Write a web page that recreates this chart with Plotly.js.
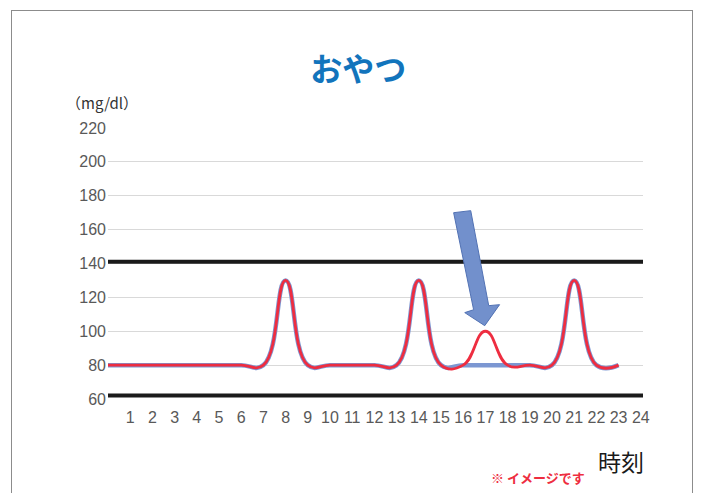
<!DOCTYPE html>
<html>
<head>
<meta charset="utf-8">
<script src="https://cdn.plot.ly/plotly-3.0.1.min.js"></script>
<style>
  html, body { margin: 0; padding: 0; background: #fff; }
  #frame { position: absolute; left: 11px; top: 10px; width: 682px; height: 500px; border: 1px solid #8c8c8c; box-sizing: border-box; }
  #chart { position: absolute; left: 0; top: 0; width: 701px; height: 493px; }
</style>
</head>
<body>
<div id="frame"></div>
<div id="chart"></div>
<script>
// ---- data ----
const hours = [0,1,2,3,4,5,6,7,8,9,10,11,12,13,14,15,16,17,18,19,20,21,22,23];
const withSnack = [80,80,80,80,80,80,80,80,130,80,80,80,80,80,130,80,80,100,80,80,80,130,80,80];
const withoutSnack = [80,80,80,80,80,80,80,80,130,80,80,80,80,80,130,80,80,80,80,80,80,130,80,80];
const xTickVals = [1,2,3,4,5,6,7,8,9,10,11,12,13,14,15,16,17,18,19,20,21,22,23,24];
const xTickText = ["1","2","3","4","5","6","7","8","9","10","11","12","13","14","15","16","17","18","19","20","21","22","23","24"];
const yTickVals = [60,80,100,120,140,160,180,200,220];
const upperLimit = 141;
const lowerLimit = 62;
// block arrow outline (data units) pointing at the snack peak
const arrowX = [15.57, 16.34, 17.15, 17.64, 16.97, 16.07, 16.47];
const arrowY = [170.0, 171.2, 115.1, 115.7, 103.3, 111.0, 112.7];

const arrowPath = arrowX.map((x, i) => (i === 0 ? 'M' : 'L') + x + ',' + arrowY[i]).join(' ') + ' Z';

const traces = [
  {
    x: hours, y: withoutSnack, type: 'scatter', mode: 'lines',
    line: { color: '#7C97D2', width: 4.5, shape: 'spline', smoothing: 1.3 },
    hoverinfo: 'skip', showlegend: false
  },
  {
    x: hours, y: withSnack, type: 'scatter', mode: 'lines',
    line: { color: '#EE2D40', width: 2.8, shape: 'spline', smoothing: 1.3 },
    hoverinfo: 'skip', showlegend: false
  }
];

const layout = {
  width: 701, height: 493,
  margin: { l: 108, r: 58, t: 128, b: 94 },
  paper_bgcolor: 'rgba(0,0,0,0)',
  plot_bgcolor: 'rgba(0,0,0,0)',
  showlegend: false,
  title: {
    text: '<b>おやつ</b>',
    font: { family: 'Noto Sans CJK JP', size: 32, color: '#1274BC' },
    x: 0.511, xanchor: 'center', y: 0.858, yanchor: 'middle'
  },
  xaxis: {
    range: [0, 24.1],
    tickvals: xTickVals, ticktext: xTickText,
    showgrid: false, zeroline: false, showline: false, ticks: '',
    tickfont: { family: 'Liberation Sans', size: 16, color: '#595959' },
    ticklabelstandoff: 7,
    fixedrange: true
  },
  yaxis: {
    range: [60, 220],
    tickvals: yTickVals,
    showgrid: true, gridcolor: '#D9D9D9', gridwidth: 1,
    zeroline: false, showline: false, ticks: '',
    tickfont: { family: 'Liberation Sans', size: 16, color: '#595959' },
    ticklabelstandoff: 1,
    fixedrange: true
  },
  shapes: [
    { type: 'line', xref: 'paper', x0: 0, x1: 1, yref: 'y', y0: upperLimit, y1: upperLimit, line: { color: '#1A1A1A', width: 4 } },
    { type: 'line', xref: 'paper', x0: 0, x1: 1, yref: 'y', y0: lowerLimit, y1: lowerLimit, line: { color: '#1A1A1A', width: 4 } },
    { type: 'path', xref: 'x', yref: 'y', path: arrowPath, fillcolor: '#7290CC', line: { color: '#5272B4', width: 1 } }
  ],
  annotations: [
    { text: '（mg/dl）', xref: 'paper', yref: 'paper', x: -0.083, y: 1.095, xanchor: 'left', yanchor: 'middle',
      showarrow: false, font: { family: 'Noto Sans CJK JP', size: 15, color: '#333333' } },
    { text: '時刻', xref: 'paper', yref: 'paper', x: 1.006, y: -0.23, xanchor: 'right', yanchor: 'middle',
      showarrow: false, font: { family: 'Noto Sans CJK JP', size: 23, color: '#1a1a1a' } },
    { text: '<b>※ イメージです</b>', xref: 'paper', yref: 'paper', x: 0.895, y: -0.29, xanchor: 'right', yanchor: 'middle',
      showarrow: false, font: { family: 'Noto Sans CJK JP', size: 13, color: '#EE2D40' } }
  ]
};

Plotly.newPlot('chart', traces, layout, { displayModeBar: false, staticPlot: true });
</script>
</body>
</html>
